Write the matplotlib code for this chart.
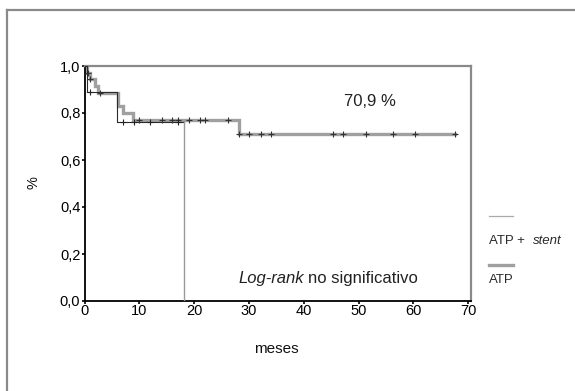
import numpy as np
import matplotlib
matplotlib.use("Agg")
import matplotlib.pyplot as plt
from matplotlib.lines import Line2D

plt.rcParams['font.family'] = ['Liberation Sans', 'DejaVu Sans']

# ATP (thick grey)
atp_times = [0, 0.4, 1.0, 1.9, 2.5, 6.2, 7.0, 8.8, 28.2]
atp_surv = [1.0, 0.971, 0.943, 0.914, 0.886, 0.829, 0.800, 0.771, 0.709]
atp_end = 67.6
atp_censor = [0.6, 1.0, 2.8, 10.0, 14.1, 16.0, 17.0, 19.1, 21.0, 22.0, 26.1,
              28.2, 30.1, 32.2, 34.0, 45.3, 47.2, 51.3, 56.3, 60.3, 67.6]

# ATP + stent (thin)
stent_times = [0, 0.5, 6.0]
stent_surv = [1.0, 0.889, 0.762]
stent_drop = 18.2
stent_censor = [1.0, 7.0, 9.0, 12.0, 17.0]

xticks = [0, 10, 20, 30, 40, 50, 60, 70]
yticks = [0.0, 0.2, 0.4, 0.6, 0.8, 1.0]
ytick_labels = ['0,0', '0,2', '0,4', '0,6', '0,8', '1,0']

W, H = 575, 391


def surv_at(times, surv, t):
    idx = np.searchsorted(times, t, side='right') - 1
    return np.array(surv)[idx]


fig = plt.figure(figsize=(W / 100, H / 100), dpi=100)
fig.patch.set_facecolor('white')
ax = fig.add_axes([84.5 / W, 1 - 301 / H, (471 - 84.5) / W, (301 - 66) / H])

# outer frame lines
fig.add_artist(Line2D([7 / W, 7 / W], [0, 1 - 10 / H], transform=fig.transFigure,
                      color='#8a8a8a', lw=1.6))
fig.add_artist(Line2D([7 / W, 1], [1 - 10 / H, 1 - 10 / H], transform=fig.transFigure,
                      color='#8a8a8a', lw=1.6))

# thick ATP curve
ax.step(atp_times + [atp_end], atp_surv + [atp_surv[-1]], where='post',
        color='#a0a0a0', lw=2.4, solid_joinstyle='miter', zorder=2)
# thin ATP + stent curve
ax.step(stent_times + [stent_drop], stent_surv + [stent_surv[-1]], where='post',
        color='#2a2a2a', lw=0.8, zorder=3)
ax.plot([stent_drop, stent_drop], [stent_surv[-1], 0], color='#9a9a9a', lw=1.0, zorder=3)

# censor marks
ax.plot(atp_censor, surv_at(atp_times, atp_surv, atp_censor), linestyle='none',
        marker='+', ms=5, mew=0.8, color='#333333', zorder=4)
ax.plot(stent_censor, surv_at(stent_times, stent_surv, stent_censor), linestyle='none',
        marker='+', ms=5, mew=0.8, color='#222222', zorder=4)

ax.set_xlim(0, (471 - 84.5) / 5.48)
ax.set_ylim(0, 1.0)
ax.set_xticks(xticks)
ax.set_xticklabels([str(x) for x in xticks], fontsize=10.5)
ax.set_yticks(yticks)
ax.set_yticklabels(ytick_labels, fontsize=10.5)
ax.tick_params(axis='both', direction='out', length=2, width=1.2, colors='black', pad=1.0)
ax.tick_params(axis='x', pad=0.5)

for s in ['left', 'bottom']:
    ax.spines[s].set_color('black')
    ax.spines[s].set_linewidth(1.3)
for s in ['top', 'right']:
    ax.spines[s].set_color('#8a8a8a')
    ax.spines[s].set_linewidth(1.6)

fig.text(276 / W, 1 - 349 / H, 'meses', fontsize=11, ha='center', va='center', color='#111111')
fig.text(33 / W, 1 - 183 / H, '%', fontsize=10.5, ha='center', va='center', color='#111111',
         rotation=90)

fig.text(370 / W, 1 - 102 / H, '70,9 %', fontsize=12, ha='center', va='center', color='#222222')
fig.text(304 / W, 1 - 278 / H, 'Log-rank', fontsize=12, style='italic', ha='right', va='center',
         color='#222222')
fig.text(308 / W, 1 - 278 / H, 'no significativo', fontsize=12, ha='left', va='center',
         color='#222222')

# legend
fig.add_artist(Line2D([489 / W, 513 / W], [1 - 216 / H] * 2, transform=fig.transFigure,
                      color='#aaaaaa', lw=0.9))
fig.text(489 / W, 1 - 241 / H, 'ATP + ', fontsize=9.5, ha='left', va='center', color='#2a2a2a')
fig.text(533 / W, 1 - 241 / H, 'stent', fontsize=9.5, style='italic', ha='left', va='center',
         color='#2a2a2a')
fig.add_artist(Line2D([489 / W, 513 / W], [1 - 265 / H] * 2, transform=fig.transFigure,
                      color='#a0a0a0', lw=2.4))
fig.text(489 / W, 1 - 280 / H, 'ATP', fontsize=9.5, ha='left', va='center', color='#2a2a2a')

fig.savefig('out.png', dpi=100)
